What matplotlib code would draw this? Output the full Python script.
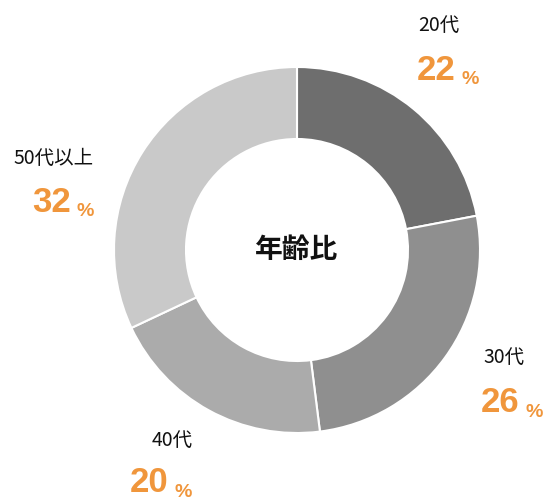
import matplotlib.pyplot as plt

plt.rcParams['font.family'] = ['Noto Sans CJK JP', 'DejaVu Sans']

# data
labels = ['20代', '30代', '40代', '50代以上']
shares = [22, 26, 20, 32]
colors = ['#6e6e6e', '#8f8f8f', '#ababab', '#c9c9c9']
title = '年齢比'

# label anchors in pixel space (x, y from top): name line, then percent line
name_pos = [(418, 25), (483, 357), (152, 440), (13, 158)]
pct_pos = [(417, 70), (481, 403), (130, 483), (32, 202)]

W, H = 548, 500
orange = '#f0963c'

fig = plt.figure(figsize=(W / 100, H / 100), dpi=100)
ax = fig.add_axes([0, 0, 1, 1])

ax.pie(shares, colors=colors, startangle=90, counterclock=False,
       center=(297, H - 250), radius=183,
       wedgeprops=dict(width=183 - 111, edgecolor='white', linewidth=1.5))
ax.set_xlim(0, W)
ax.set_ylim(0, H)
ax.set_aspect('equal')
ax.axis('off')

ax.text(297, H - 250, title, ha='center', va='center', fontsize=20,
        fontweight='bold', color='#111111')

for lab, v, (nx, ny), (px, py) in zip(labels, shares, name_pos, pct_pos):
    ax.text(nx, H - ny, lab, ha='left', va='center', fontsize=14, color='#111111')
    num = ax.text(px, H - py, str(v), ha='left', va='center', fontsize=25,
                  fontweight='bold', color=orange, family='Liberation Sans')
    ax.annotate('%', xy=(1, 0), xycoords=num, xytext=(4, -1),
                textcoords='offset points', ha='left', va='bottom',
                fontsize=14, fontweight='bold', color=orange,
                family='Liberation Sans')

fig.savefig('out.png', dpi=100)
